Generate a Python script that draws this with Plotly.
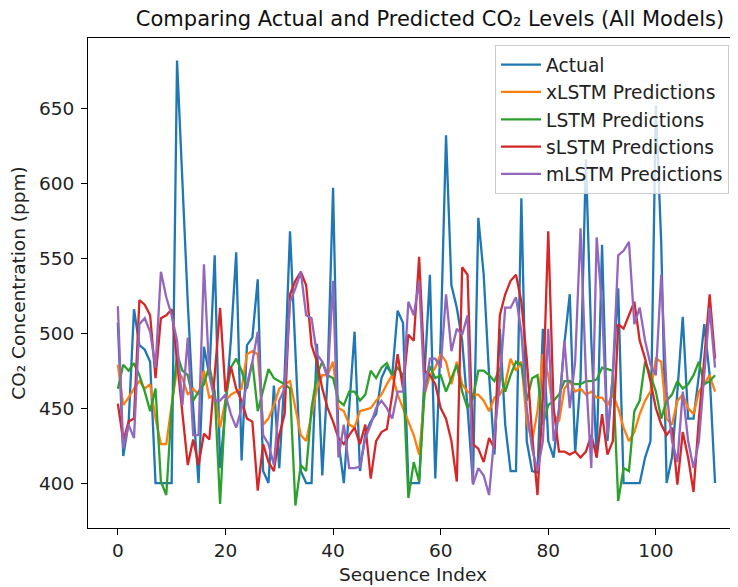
import plotly.graph_objects as go

idx = list(range(112))

actual = [507, 418, 440, 516, 492, 489, 481, 400, 400, 400, 400, 682, 600, 520, 450, 400,
          491, 472, 552, 410, 450, 495, 554, 415, 492, 497, 536, 408, 400, 465, 410, 472,
          568, 486, 408, 400, 400, 493, 405, 472, 597, 428, 400, 450, 501, 408, 433, 441,
          446, 470, 478, 472, 515, 507, 400, 400, 400, 472, 539, 403, 495, 632, 532, 517,
          495, 450, 400, 577, 539, 472, 419, 503, 439, 408, 408, 590, 428, 408, 407, 503,
          428, 417, 450, 493, 526, 420, 470, 616, 495, 417, 559, 428, 472, 530, 400, 400,
          400, 400, 417, 428, 652, 560, 400, 417, 461, 511, 443, 443, 472, 506, 472, 400]

xlstm = [479, 452, 457, 463, 468, 463, 466, 443, 426, 426, 452, 476, 470, 459, 463, 459,
         475, 457, 459, 437, 455, 459, 461, 463, 486, 488, 486, 439, 443, 452, 463, 466,
         468, 450, 432, 428, 446, 463, 472, 472, 481, 450, 448, 439, 437, 448, 449, 450,
         455, 459, 466, 472, 459, 450, 441, 432, 419, 459, 472, 477, 486, 481, 466, 481,
         466, 461, 459, 459, 455, 448, 457, 459, 466, 483, 475, 481, 441, 428, 448, 486,
         472, 446, 441, 463, 468, 461, 463, 459, 461, 457, 457, 452, 459, 450, 437, 428,
         434, 446, 455, 461, 483, 481, 443, 439, 455, 459, 450, 446, 461, 466, 472, 461]

lstm = [463, 479, 475, 480, 472, 461, 448, 463, 401, 392, 450, 486, 475, 472, 455, 461,
        466, 478, 461, 386, 455, 477, 483, 475, 463, 481, 448, 463, 476, 470, 468, 466,
        463, 385, 412, 408, 450, 472, 481, 472, 470, 455, 452, 461, 461, 455, 459, 475,
        470, 477, 480, 472, 477, 472, 390, 414, 401, 461, 478, 470, 472, 461, 470, 479,
        461, 450, 457, 475, 475, 472, 468, 477, 461, 472, 481, 479, 455, 470, 472, 439,
        452, 455, 459, 468, 468, 466, 466, 468, 468, 469, 477, 476, 475, 388, 410, 408,
        448, 455, 481, 472, 461, 443, 455, 459, 468, 463, 466, 472, 481, 466, 468, 472]

slstm = [453, 428, 441, 443, 522, 519, 512, 470, 510, 512, 516, 481, 450, 412, 429, 412,
         433, 429, 472, 517, 461, 478, 463, 455, 443, 441, 395, 426, 414, 408, 432, 446,
         526, 535, 541, 532, 492, 481, 463, 450, 441, 430, 426, 432, 437, 426, 439, 403,
         428, 434, 436, 459, 486, 463, 499, 495, 551, 475, 472, 466, 450, 443, 428, 401,
         544, 539, 426, 423, 414, 430, 423, 512, 526, 535, 539, 521, 483, 432, 392, 457,
         568, 450, 421, 421, 419, 421, 417, 421, 432, 417, 446, 419, 428, 506, 503, 512,
         521, 495, 483, 468, 450, 439, 432, 437, 399, 434, 417, 394, 443, 483, 526, 483]

mlstm = [518, 423, 439, 430, 506, 510, 501, 477, 541, 524, 512, 495, 452, 497, 432, 432,
         546, 472, 455, 455, 459, 446, 437, 450, 466, 481, 501, 432, 426, 412, 455, 463,
         521, 530, 541, 512, 510, 486, 481, 470, 535, 417, 439, 410, 410, 411, 430, 439,
         450, 455, 450, 443, 461, 461, 521, 512, 535, 461, 483, 483, 477, 526, 488, 503,
         499, 512, 399, 410, 405, 392, 432, 468, 517, 517, 524, 501, 450, 423, 408, 428,
         503, 428, 448, 495, 450, 481, 570, 472, 410, 564, 517, 432, 472, 552, 555, 561,
         506, 517, 495, 479, 472, 539, 461, 428, 414, 461, 428, 410, 428, 472, 517, 477]

series = [
    ("Actual", actual, "#1f77b4"),
    ("xLSTM Predictions", xlstm, "#ff7f0e"),
    ("LSTM Predictions", lstm, "#2ca02c"),
    ("sLSTM Predictions", slstm, "#d62728"),
    ("mLSTM Predictions", mlstm, "#9467bd"),
]

x_ticks = [0, 20, 40, 60, 80, 100]
y_ticks = [400, 450, 500, 550, 600, 650]

fig = go.Figure()
for name, vals, color in series:
    fig.add_trace(go.Scatter(x=idx, y=vals, mode="lines", name=name,
                             line=dict(color=color, width=2.3)))

# the page body adds an 8px margin, so the figure is 8px smaller than the window
W, H = 730, 579
font_family = "DejaVu Sans"
txt = "#222222"
fs = 18.5
fig.update_layout(
    width=W, height=H,
    margin=dict(l=80, r=0, t=30, b=59, autoexpand=False),
    paper_bgcolor="white", plot_bgcolor="white",
    font=dict(family=font_family, size=fs, color=txt),
    title=dict(text="Comparing Actual and Predicted CO₂ Levels (All Models)",
               font=dict(family=font_family, size=21, color="#111111"),
               xref="container", x=422 / W, xanchor="center",
               yref="container", y=1 - 11 / H, yanchor="middle"),
    showlegend=True,
    legend=dict(x=(495 - 88) / 650, y=(528 - 45) / 490, xanchor="left", yanchor="top",
                bgcolor="rgba(255,255,255,0.8)", bordercolor="#cccccc", borderwidth=1,
                font=dict(family=font_family, size=18.7, color=txt),
                itemwidth=40),
)
fig.update_xaxes(range=[-5.55, -5.55 + 650 / 5.38], tickvals=x_ticks,
                 ticktext=[str(t) for t in x_ticks], automargin=False,
                 showline=True, linecolor="black", linewidth=1.2, mirror=True,
                 ticks="outside", ticklen=6, tickcolor="black", showgrid=False, zeroline=False,
                 tickfont=dict(family=font_family, size=fs, color=txt),
                 title=dict(text="Sequence Index", standoff=7,
                            font=dict(family=font_family, size=fs, color=txt)))
fig.update_yaxes(range=[370, 697], tickvals=y_ticks,
                 ticktext=[str(t) for t in y_ticks], automargin=False,
                 showline=True, linecolor="black", linewidth=1.2, mirror=False,
                 ticks="outside", ticklen=6, tickcolor="black", showgrid=False, zeroline=False,
                 ticklabelstandoff=3,
                 tickfont=dict(family=font_family, size=fs, color=txt),
                 title=dict(text="CO₂ Concentration (ppm)", standoff=13,
                            font=dict(family=font_family, size=fs, color=txt)))

fig.write_html("out.html")
